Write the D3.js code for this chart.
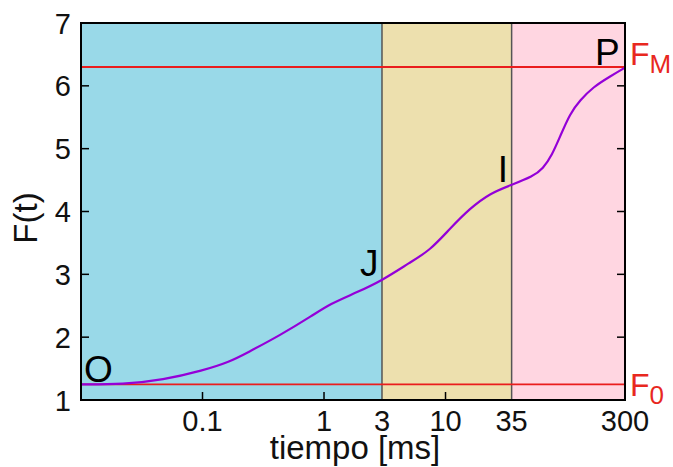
<!DOCTYPE html>
<html><head><meta charset="utf-8">
<script src="https://cdn.jsdelivr.net/npm/d3@7"></script>
<style>body{margin:0;background:#fff}svg{display:block;font-family:"Liberation Sans",Arial,sans-serif}</style>
</head><body><svg id="c" width="673" height="467"></svg>
<script>
// Data
const timeMs = [0.01, 0.0222, 0.0473, 0.101, 0.168, 0.232, 0.435, 0.811, 1.12, 1.8, 3, 5.1, 7.45, 10.9, 15.9, 23.2, 34.6, 52.5, 63.4, 75.3, 87.5, 105.8, 128, 163.7, 226, 300];
const fluor  = [1.25, 1.25, 1.32, 1.47, 1.61, 1.75, 2.03, 2.35, 2.53, 2.70, 2.90, 3.19, 3.38, 3.73, 4.05, 4.29, 4.42, 4.56, 4.68, 4.90, 5.19, 5.56, 5.77, 5.98, 6.15, 6.29];
const phaseBounds = [0.01, 3, 35, 300];
const phaseColors = ["#99d9e8", "#ede0ae", "#ffd6e1"];
const xTickValues = [0.1, 1, 3, 10, 35, 300];
const xTickLabels = ["0.1", "1", "3", "10", "35", "300"];
const yTickValues = [1, 2, 3, 4, 5, 6, 7];
const F0 = 1.25, FM = 6.30;
const pointNames = ["O", "J", "I", "P"];
const pointTimes = [0.01, 3, 35, 300];
const pointValues = [1.25, 2.90, 4.42, 6.29];

const svg = d3.select("#c");
const x = d3.scaleLog().domain([0.01, 300]).range([81, 625]);
const y = d3.scaleLinear().domain([1, 7]).range([400, 23]);

// phase backgrounds
svg.selectAll("rect.ph").data(phaseColors).join("rect")
  .attr("x", (d,i) => x(phaseBounds[i])).attr("y", y(7))
  .attr("width", (d,i) => x(phaseBounds[i+1]) - x(phaseBounds[i]))
  .attr("height", y(1) - y(7)).attr("fill", d => d);

// separators
svg.selectAll("line.sep").data([3, 35]).join("line")
  .attr("x1", d => x(d)).attr("x2", d => x(d)).attr("y1", y(7)).attr("y2", y(1))
  .attr("stroke", "#555").attr("stroke-width", 1.5);

// ticks (inward)
const tickLen = 8;
svg.selectAll("line.xt").data([0.1, 1, 10]).join("line")
  .attr("x1", d => x(d)).attr("x2", d => x(d)).attr("y1", y(1)).attr("y2", y(1) - tickLen)
  .attr("stroke", "#000").attr("stroke-width", 1.5);
svg.selectAll("line.ylt").data([2,3,4,5,6]).join("line")
  .attr("x1", x(0.01)).attr("x2", x(0.01) + tickLen).attr("y1", d => y(d)).attr("y2", d => y(d))
  .attr("stroke", "#000").attr("stroke-width", 1.5);
svg.selectAll("line.yrt").data([2,3,4,5,6]).join("line")
  .attr("x1", x(300)).attr("x2", x(300) - tickLen).attr("y1", d => y(d)).attr("y2", d => y(d))
  .attr("stroke", "#000").attr("stroke-width", 1.5);

// F0, FM lines
svg.selectAll("line.ref").data([F0, FM]).join("line")
  .attr("x1", x(0.01)).attr("x2", x(300)).attr("y1", d => y(d)).attr("y2", d => y(d))
  .attr("stroke", "#ea1d1d").attr("stroke-width", 1.8);

// curve
const line = d3.line().x((d,i) => x(timeMs[i])).y(d => y(d)).curve(d3.curveBasis);
svg.append("path").datum(fluor).attr("d", line).attr("fill", "none")
  .attr("stroke", "#9400d8").attr("stroke-width", 2.2);

// frame
svg.append("rect").attr("x", x(0.01)).attr("y", y(7))
  .attr("width", x(300) - x(0.01)).attr("height", y(1) - y(7))
  .attr("fill", "none").attr("stroke", "#000").attr("stroke-width", 2);

// tick labels
svg.selectAll("text.xl").data(xTickValues).join("text")
  .attr("x", d => x(d)).attr("y", 431).attr("text-anchor", "middle")
  .attr("font-size", 29).attr("fill", "#111").text((d,i) => xTickLabels[i]);
svg.selectAll("text.yl").data(yTickValues).join("text")
  .attr("x", 71).attr("y", d => y(d) + 10.5).attr("text-anchor", "end")
  .attr("font-size", 29).attr("fill", "#111").text(d => d);

// axis titles
svg.append("text").attr("x", 355).attr("y", 459).attr("text-anchor", "middle")
  .attr("font-size", 33).attr("fill", "#111").text("tiempo [ms]");
svg.append("text").attr("transform", "translate(37,218) rotate(-90)").attr("text-anchor", "middle")
  .attr("font-size", 33).attr("fill", "#111").text("F(t)");

// point labels
const offs = [[3, -2], [-22, -5], [-14, -3], [-30, -2.5]];
svg.selectAll("text.pt").data(pointNames).join("text")
  .attr("x", (d,i) => x(pointTimes[i]) + offs[i][0])
  .attr("y", (d,i) => y(pointValues[i]) + offs[i][1])
  .attr("font-size", 37).attr("fill", "#000").text(d => d);

// F0 / FM labels
const refLbl = [["F","0",F0,12],["F","M",FM,-2]];
refLbl.forEach(r => {
  const t = svg.append("text").attr("x", x(300) + 5).attr("y", y(r[2]) + r[3])
    .attr("font-size", 32).attr("fill", "#e8281f");
  t.append("tspan").text(r[0]);
  t.append("tspan").attr("dy", 8).attr("font-size", 26).text(r[1]);
});
</script></body></html>
